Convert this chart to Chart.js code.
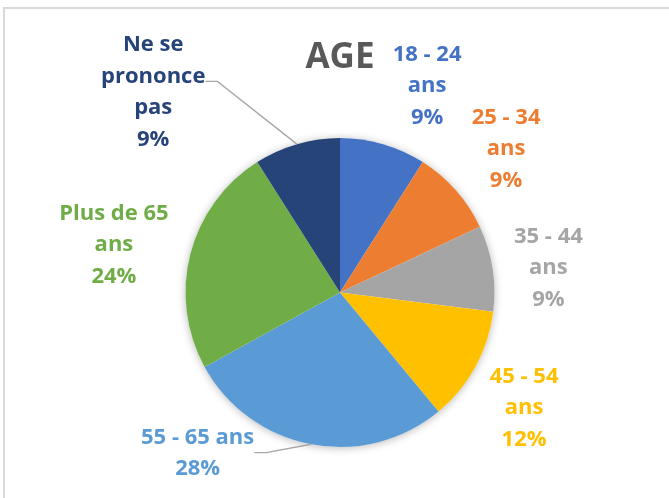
<!DOCTYPE html>
<html>
<head>
<meta charset="utf-8">
<script src="https://cdn.jsdelivr.net/npm/chart.js@4.4.0/dist/chart.umd.min.js"></script>
<style>
  html, body { margin: 0; padding: 0; background: #fff; overflow: hidden; }
  #wrap { position: relative; width: 669px; height: 498px; }
  #frame { position: absolute; left: 3px; top: 7px; width: 700px; height: 600px;
           border-left: 2px solid #d9d9d9; border-top: 2px solid #d9d9d9; }
  #chart1 { position: absolute; left: 0; top: 0; }
</style>
</head>
<body>
<div id="wrap"><div id="frame"></div><canvas id="chart1"></canvas></div>
<script>
// data
var categories = [
    ['18 - 24', 'ans'],
    ['25 - 34', 'ans'],
    ['35 - 44', 'ans'],
    ['45 - 54', 'ans'],
    ['55 - 65 ans'],
    ['Plus de 65', 'ans'],
    ['Ne se', 'prononce', 'pas']
];
var shares = [9, 9, 9, 12, 28, 24, 9];
var colors = ['#4472C4', '#ED7D31', '#A5A5A5', '#FFC000', '#5B9BD5', '#70AD47', '#264478'];
var title = 'AGE';

// label placement tweaks (angle in degrees from 12 o'clock, dist in radii)
var labelTweaks = {
    0: { angle: 22.6 },
    2: { angle: 82.5 },
    3: { angle: 121.5 },
    4: { angle: 222, dist: 1.377, leader: true, leaderDy: 2 },
    5: { angle: 282.5 },
    6: { angle: 317.4, dist: 1.786, leader: true, leaderDy: -8 }
};
var LH = 31.5, GAP = 21;
var FONT = 'bold 22px "Open Sans", "Noto Sans", sans-serif';

var ageLabels = {
    id: 'ageLabels',
    beforeDatasetsDraw: function (chart) {
        // soft shadow under the pie
        var arc = chart.getDatasetMeta(0).data[0];
        var ctx = chart.ctx;
        ctx.save();
        ctx.shadowColor = 'rgba(0,0,0,0.28)';
        ctx.shadowBlur = 8;
        ctx.shadowOffsetY = 1;
        ctx.fillStyle = '#fff';
        ctx.beginPath();
        ctx.arc(arc.x, arc.y, arc.outerRadius, 0, Math.PI * 2);
        ctx.fill();
        ctx.restore();
    },
    afterDraw: function (chart) {
        var ctx = chart.ctx;
        var meta = chart.getDatasetMeta(0);
        ctx.save();

        var first = meta.data[0];
        ctx.font = 'bold 35px "Open Sans", "Noto Sans", sans-serif';
        ctx.fillStyle = '#595959';
        ctx.textAlign = 'center';
        ctx.textBaseline = 'alphabetic';
        ctx.fillText(title, first.x, 68);

        meta.data.forEach(function (el, i) {
            var p = el.getProps(['x', 'y', 'startAngle', 'endAngle', 'outerRadius'], true);
            var mid = (p.startAngle + p.endAngle) / 2;
            var tw = labelTweaks[i] || {};
            var a = tw.angle !== undefined ? tw.angle * Math.PI / 180 - Math.PI / 2 : mid;
            var lines = categories[i].concat([shares[i] + '%']);
            ctx.font = FONT;
            var w = Math.max.apply(null, lines.map(function (l) { return ctx.measureText(l).width; }));
            var hw = w / 2, hh = lines.length * LH / 2;
            var c = Math.cos(a), s = Math.sin(a);
            var d = tw.dist ? tw.dist * p.outerRadius
                : p.outerRadius + GAP + Math.min(hw / Math.max(Math.abs(c), 1e-6), hh / Math.max(Math.abs(s), 1e-6));
            var cx = p.x + c * d, cy = p.y + s * d;

            if (tw.leader) {
                var side = cx < p.x ? 1 : -1;
                var ex = cx + side * hw;
                var ly = cy + (tw.leaderDy || 0);
                ctx.strokeStyle = '#a6a6a6';
                ctx.lineWidth = 1.3;
                ctx.beginPath();
                ctx.moveTo(ex, ly);
                ctx.lineTo(ex + side * 12, ly);
                ctx.lineTo(p.x + Math.cos(mid) * p.outerRadius, p.y + Math.sin(mid) * p.outerRadius);
                ctx.stroke();
            }

            ctx.fillStyle = colors[i];
            ctx.textAlign = 'center';
            lines.forEach(function (l, k) {
                ctx.fillText(l, cx, cy - hh + LH / 2 + k * LH + 9);
            });
        });
        ctx.restore();
    }
};

new Chart(document.getElementById('chart1'), {
    type: 'pie',
    data: {
        labels: categories,
        datasets: [{
            data: shares,
            backgroundColor: colors,
            borderWidth: 0,
            hoverOffset: 0,
            offset: 0
        }]
    },
    options: {
        responsive: true,
        maintainAspectRatio: false,
        animation: false,
        events: [],
        layout: { padding: { top: 138, bottom: 51, left: 185.5, right: 174.5 } },
        plugins: {
            legend: { display: false },
            tooltip: { enabled: false },
            title: { display: false }
        }
    },
    plugins: [ageLabels]
});
</script>
</body>
</html>
